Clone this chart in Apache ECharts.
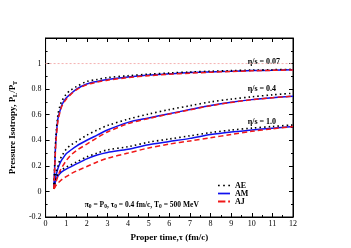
<!DOCTYPE html>
<html><head><meta charset="utf-8">
<script src="https://cdn.jsdelivr.net/npm/echarts@6/dist/echarts.min.js"></script>
<style>html,body{margin:0;padding:0;background:#fff}#c{width:351px;height:248px}</style>
</head><body><div id="c"></div>
<script>
var tau = [0.4,0.45,0.5,0.6,0.7,0.8,1.0,1.2,1.5,2,2.5,3,4,5,6,7,8,9,10,11,12];
// eta/s = 0.07
var AE_007 = [0.02,0.24,0.43,0.60,0.67,0.71,0.76,0.79,0.82,0.86,0.875,0.89,0.905,0.917,0.926,0.934,0.94,0.945,0.949,0.952,0.955];
var AM_007 = [0.02,0.22,0.40,0.57,0.63,0.68,0.73,0.76,0.80,0.84,0.86,0.875,0.895,0.91,0.92,0.93,0.935,0.94,0.945,0.948,0.951];
var AJ_007 = [0.02,0.20,0.38,0.55,0.62,0.67,0.72,0.755,0.795,0.835,0.855,0.87,0.89,0.905,0.916,0.925,0.932,0.938,0.943,0.947,0.95];
// eta/s = 0.4
var AE_04 = [0.02,0.09,0.14,0.20,0.25,0.28,0.33,0.36,0.39,0.44,0.48,0.515,0.565,0.605,0.64,0.67,0.70,0.722,0.74,0.755,0.768];
var AM_04 = [0.02,0.08,0.12,0.18,0.22,0.25,0.295,0.32,0.355,0.40,0.44,0.48,0.54,0.575,0.608,0.64,0.672,0.698,0.718,0.733,0.745];
var AJ_04 = [0.02,0.04,0.07,0.12,0.16,0.19,0.24,0.28,0.32,0.37,0.42,0.465,0.53,0.57,0.605,0.638,0.67,0.696,0.717,0.733,0.745];
// eta/s = 1.0
var AE_10 = [0.02,0.07,0.10,0.135,0.155,0.17,0.19,0.205,0.23,0.27,0.30,0.325,0.35,0.385,0.41,0.435,0.46,0.48,0.495,0.508,0.52];
var AM_10 = [0.02,0.06,0.09,0.12,0.14,0.155,0.175,0.19,0.215,0.255,0.285,0.305,0.33,0.365,0.39,0.415,0.445,0.465,0.48,0.495,0.507];
var AJ_10 = [0.02,0.03,0.045,0.065,0.08,0.095,0.115,0.135,0.16,0.195,0.23,0.26,0.30,0.34,0.37,0.395,0.42,0.445,0.47,0.49,0.507];
var refLine = 1;
var xTicks = [0,1,2,3,4,5,6,7,8,9,10,11,12];
var yTicks = [-0.2,0,0.2,0.4,0.6,0.8,1];
var etaLabels = ['η/s = 0.07','η/s = 0.4','η/s = 1.0'];
var legendNames = ['AE','AM','AJ'];

function pairs(v){return tau.map(function(t,i){return [t,v[i]];});}
var FONT = '"Liberation Serif", "DejaVu Serif", serif';
var chart = echarts.init(document.getElementById('c'), null, {renderer:'canvas'});
var styles = {
  AE:{color:'#000', type:[1.5,3], width:1.6, icon:'path://M0,0h2v2h-2z M6,0h2v2h-2z M12,0h2v2h-2z'},
  AM:{color:'#1010ee', type:'solid', width:1.5, icon:'path://M0,0h14v2h-14z'},
  AJ:{color:'#f01818', type:[5,3], width:1.5, icon:'path://M0,0h8v2h-8z M11,0h2v2h-2z'}
};
var groups = [[AE_007,AM_007,AJ_007],[AE_04,AM_04,AJ_04],[AE_10,AM_10,AJ_10]];
var series = [];
groups.forEach(function(g){
  g.forEach(function(v,k){
    var nm = legendNames[k];
    series.push({name:nm,type:'line',data:pairs(v),smooth:0.3,symbol:'none',
      lineStyle:{color:styles[nm].color,type:styles[nm].type,width:styles[nm].width},
      itemStyle:{color:styles[nm].color},z: k===0?3:(k===1?2:4)});
  });
});
series.push({type:'line',data:[[0,refLine],[12,refLine]],symbol:'none',silent:true,
  lineStyle:{color:'#f4b0b0',type:[2,2],width:1},z:1});
function axLine(){return {show:true,onZero:false,lineStyle:{color:'#000',width:1}};}
function tk(){return {inside:true,length:4,lineStyle:{color:'#000'}};}
function mn(){return {show:true,splitNumber:2,length:2,lineStyle:{color:'#000'}};}
var opt = {
  animation:false,
  grid:{left:38.5,right:58,top:38,bottom:31,show:true,borderColor:'#000',borderWidth:1,backgroundColor:'transparent'},
  xAxis:[{type:'value',min:0,max:12,interval:1,axisLine:axLine(),axisTick:tk(),minorTick:mn(),
      splitLine:{show:false},
      axisLabel:{fontFamily:FONT,fontSize:8,color:'#000',margin:3},
      name:'Proper time,τ (fm/c)',nameLocation:'middle',nameGap:11,
      nameTextStyle:{fontFamily:FONT,fontSize:9,fontWeight:'bold',color:'#000'}},
    {type:'value',min:0,max:12,interval:1,position:'top',axisLine:axLine(),axisTick:tk(),minorTick:mn(),
      splitLine:{show:false},axisLabel:{show:false}}],
  yAxis:[{type:'value',min:-0.2,max:1.2,interval:0.2,axisLine:axLine(),axisTick:tk(),minorTick:mn(),
      splitLine:{show:false},
      axisLabel:{fontFamily:FONT,fontSize:8,color:'#000',margin:4,
        formatter:function(v){v=Math.round(v*10)/10; if(v>1.1) return ''; return String(v);}},
      name:'{a|Pressure Isotropy, P}{s|L}{a|/P}{s|T}',nameLocation:'middle',nameGap:19,
      nameTextStyle:{rich:{a:{fontFamily:FONT,fontSize:9,fontWeight:'bold',color:'#000'},
        s:{fontFamily:FONT,fontSize:6,fontWeight:'bold',color:'#000',padding:[5,0,0,0]}}}},
    {type:'value',min:-0.2,max:1.2,interval:0.2,position:'right',axisLine:axLine(),axisTick:tk(),minorTick:mn(),
      splitLine:{show:false},axisLabel:{show:false}}],
  legend:{data:legendNames.map(function(n){return {name:n,icon:styles[n].icon,itemStyle:{color:styles[n].color}};}),
    orient:'vertical',left:213,top:176,itemWidth:12,itemHeight:2,itemGap:-1,
    textStyle:{fontFamily:FONT,fontSize:8,fontWeight:'bold',color:'#000',lineHeight:9}},
  series:series
};
chart.setOption(opt);
// labels anchored to data coordinates
var labelPos = [[9.8,1.012],[9.8,0.80],[9.8,0.54]];
var gr = labelPos.map(function(p,i){
  var px = chart.convertToPixel({xAxisIndex:0,yAxisIndex:0},p);
  return {type:'text',x:px[0],y:px[1],style:{text:etaLabels[i],font:'bold 8px '+FONT,fill:'#000',verticalAlign:'middle'}};
});
var ap = chart.convertToPixel({xAxisIndex:0,yAxisIndex:0},[1.9,-0.105]);
gr.push({type:'text',x:ap[0],y:ap[1],style:{
  text:'{a|π}{s|0}{a| = P}{s|0}{a|, τ}{s|0}{a| = 0.4 fm/c, T}{s|0}{a| = 500 MeV}',
  rich:{a:{font:'bold 7.5px '+FONT,fill:'#000'},s:{font:'bold 5.5px '+FONT,fill:'#000',padding:[4,0,0,0]}},
  verticalAlign:'middle'}});
chart.setOption({graphic:gr});
</script></body></html>
